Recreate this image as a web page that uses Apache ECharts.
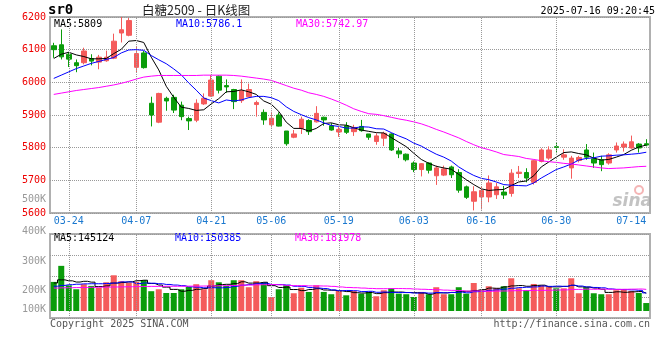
<!DOCTYPE html>
<html><head><meta charset="utf-8">
<script src="https://cdn.jsdelivr.net/npm/echarts@6/dist/echarts.min.js"></script>
<style>html,body{margin:0;padding:0;background:#fff}#c{width:660px;height:360px}</style>
</head><body><div id="c"></div>
<script>
const dates = ['03-20','03-21','03-24','03-25','03-26','03-27','03-28','03-31','04-01','04-02','04-03','04-07','04-08','04-09','04-10','04-11','04-14','04-15','04-16','04-17','04-18','04-21','04-22','04-23','04-24','04-25','04-28','04-29','04-30','05-06','05-07','05-08','05-09','05-12','05-13','05-14','05-15','05-16','05-19','05-20','05-21','05-22','05-23','05-26','05-27','05-28','05-29','05-30','06-03','06-04','06-05','06-06','06-09','06-10','06-11','06-12','06-13','06-16','06-17','06-18','06-19','06-20','06-23','06-24','06-25','06-26','06-27','06-30','07-01','07-02','07-03','07-04','07-07','07-08','07-09','07-10','07-11','07-14','07-15','07-16'];
const opens  = [6112,6115,6086,6060,6060,6073,6062,6066,6074,6151,6144,6046,6090,5936,5878,5951,5954,5930,5889,5884,5934,5958,6019,5990,5978,5944,5956,5932,5908,5870,5900,5851,5832,5859,5883,5879,5893,5867,5848,5867,5849,5865,5842,5819,5829,5842,5790,5780,5753,5733,5753,5714,5716,5741,5724,5680,5636,5649,5649,5656,5664,5660,5721,5724,5694,5758,5768,5803,5771,5738,5761,5793,5766,5763,5753,5793,5802,5799,5811,5812];
const closes = [6100,6078,6071,6051,6096,6065,6077,6077,6126,6161,6189,6088,6045,5900,5966,5943,5915,5895,5882,5936,5951,6007,5976,5986,5941,5974,5978,5938,5885,5890,5866,5812,5842,5887,5849,5905,5885,5854,5856,5847,5862,5852,5832,5836,5844,5793,5781,5763,5733,5751,5731,5738,5735,5717,5670,5648,5665,5669,5692,5680,5655,5722,5725,5707,5760,5793,5793,5801,5778,5768,5770,5771,5753,5748,5778,5805,5811,5818,5799,5808];
const lows   = [6075,6070,6047,6031,6055,6052,6040,6063,6071,6122,6141,6030,6042,5865,5875,5913,5906,5884,5854,5878,5931,5956,5966,5968,5918,5937,5954,5895,5870,5862,5865,5806,5829,5842,5839,5877,5867,5852,5833,5842,5836,5849,5824,5809,5805,5790,5768,5758,5725,5712,5721,5686,5713,5707,5662,5643,5608,5611,5633,5643,5643,5650,5707,5694,5687,5755,5763,5783,5763,5705,5755,5763,5738,5728,5748,5785,5788,5797,5785,5804];
const highs  = [6121,6162,6093,6070,6106,6086,6084,6097,6149,6200,6197,6108,6096,5956,5968,5956,5962,5941,5895,5948,5966,6022,6021,6009,5980,6009,5996,5944,5917,5910,5908,5851,5854,5895,5887,5927,5895,5875,5864,5878,5870,5885,5842,5844,5849,5844,5799,5782,5758,5753,5755,5745,5745,5745,5734,5684,5682,5680,5715,5692,5683,5734,5744,5737,5763,5798,5804,5816,5795,5775,5775,5811,5785,5775,5783,5816,5819,5837,5814,5826];
const ma5  = [6073,6086,6092,6084,6079,6072,6072,6073,6088,6101,6126,6128,6122,6077,6038,5988,5954,5924,5920,5914,5916,5934,5950,5971,5972,5977,5971,5963,5943,5933,5911,5878,5859,5859,5851,5859,5874,5876,5870,5869,5861,5854,5850,5846,5845,5831,5817,5803,5783,5764,5752,5743,5738,5734,5718,5702,5687,5674,5669,5671,5672,5684,5695,5698,5714,5741,5756,5771,5785,5787,5782,5778,5768,5762,5764,5771,5779,5792,5802,5808];
const ma10 = [6012,6022,6032,6042,6050,6058,6064,6070,6076,6090,6099,6100,6098,6082,6069,6057,6041,6023,5998,5976,5952,5944,5937,5946,5943,5946,5953,5957,5957,5953,5944,5925,5911,5901,5892,5885,5876,5868,5865,5860,5860,5864,5863,5858,5857,5846,5836,5827,5814,5805,5792,5780,5771,5759,5741,5727,5715,5706,5702,5695,5687,5685,5684,5683,5692,5707,5720,5733,5741,5750,5762,5767,5769,5774,5775,5777,5778,5780,5782,5786];
const ma30 = [5963,5967,5971,5975,5978,5981,5984,5988,5992,5997,6003,6010,6016,6019,6021,6021,6021,6021,6021,6021,6022,6022,6022,6022,6021,6019,6016,6013,6010,6006,5998,5990,5982,5976,5968,5963,5957,5949,5940,5930,5919,5911,5904,5902,5898,5893,5888,5884,5879,5873,5865,5856,5848,5839,5830,5819,5809,5800,5794,5787,5779,5776,5773,5767,5764,5760,5757,5755,5752,5750,5747,5744,5741,5738,5736,5737,5738,5740,5742,5743];
// volume, in thousands of lots
const volumes = [241,374,213,180,222,208,193,238,296,247,235,241,255,164,180,149,149,180,199,222,180,255,238,208,255,255,197,247,238,114,180,213,147,193,158,213,158,139,166,130,166,144,158,122,172,188,144,139,116,158,139,197,139,139,197,144,232,172,205,188,205,271,188,172,224,213,205,188,188,271,147,197,147,139,139,172,180,166,149,66];
const volMa5  = [232,258,250,240,246,239,203,208,231,236,242,251,255,228,215,198,179,164,171,180,186,207,219,221,227,242,231,232,238,210,195,198,178,169,178,185,174,172,167,161,152,149,153,144,152,157,157,153,152,149,139,150,150,154,162,163,170,177,190,188,200,208,211,205,212,214,200,200,204,213,200,198,190,180,154,159,155,159,161,147];
const volMa10 = [205,212,218,222,225,226,226,228,232,241,241,227,232,230,226,220,215,210,200,197,192,193,192,196,204,214,219,226,230,219,219,215,205,204,194,190,186,175,168,170,168,161,163,155,157,154,153,153,148,151,148,153,151,153,156,151,160,163,172,175,182,189,194,197,200,207,204,206,204,213,207,199,195,192,183,179,177,175,171,150];
const volMa30 = [190,192,193,194,195,196,197,198,199,200,201,202,203,204,204,205,205,205,206,206,207,208,209,210,212,214,215,217,218,219,217,212,210,210,208,208,207,204,199,195,193,190,187,185,185,186,186,185,182,180,178,176,173,171,169,165,166,164,163,165,166,168,169,169,171,171,172,174,175,179,179,181,180,181,180,179,180,181,182,179];
const xTickLabels = ['03-24','04-07','04-21','05-06','05-19','06-03','06-16','06-30','07-14'];
const vGridDates = ['03-24','04-07','04-21','05-06','05-19','06-03','06-16','06-30'];
const volTickLabels = ['500K','400K','300K','200K','100K'];
const priceLegend = ['MA5:5809','MA10:5786.1','MA30:5742.97'];
const volLegend = ['MA5:145124','MA10:150385','MA30:181978'];

const mono = '"DejaVu Sans Mono","Liberation Mono",monospace';
const RED = '#f45b5b', GREEN = '#0a9c0a';
const chart = echarts.init(document.getElementById('c'), null, {renderer: 'canvas'});
const candleData = dates.map((d, i) => [opens[i], closes[i], lows[i], highs[i]]);
const volData = volumes.map((v, i) => ({value: v, itemStyle: {color: closes[i] >= opens[i] ? RED : GREEN}}));
const vLines = () => ({silent: true, symbol: ['none', 'none'], label: {show: false},
  lineStyle: {type: 'dotted', color: '#999', width: 1}, emphasis: {disabled: true}, animation: false,
  data: vGridDates.map(d => ({xAxis: d}))});
const volLabelSlots = [9, 41, 71, 100, 119];
const lineS = (name, data, color, xi, yi, step) => ({name, type: 'line', data, xAxisIndex: xi, yAxisIndex: yi,
  showSymbol: false, symbol: 'none', step: step || false, lineStyle: {color, width: 1}, silent: true, animation: false, z: 3});
const txt = (text, x, y, fill, font, align) => ({type: 'text', x, y, silent: true,
  style: {text, fill, font, textAlign: align || 'left', textVerticalAlign: 'middle'}});

chart.setOption({
  animation: false,
  backgroundColor: '#fff',
  grid: [
    {left: 50, top: 17, width: 600, height: 196, show: true, borderColor: '#b0b0b0', borderWidth: 2},
    {left: 50, top: 234, width: 600, height: 84, show: true, borderColor: '#b0b0b0', borderWidth: 2},
    {left: 50, top: 190, width: 600, height: 130, show: false}
  ],
  xAxis: [
    {type: 'category', gridIndex: 0, data: dates, boundaryGap: true,
     axisLine: {show: false}, axisTick: {show: false}, splitLine: {show: false},
     axisLabel: {interval: (i, v) => xTickLabels.includes(v), color: '#1a78cf', fontFamily: mono, fontSize: 10, margin: 3}},
    {type: 'category', gridIndex: 1, data: dates, boundaryGap: true,
     axisLine: {show: false}, axisTick: {show: false}, axisLabel: {show: false}, splitLine: {show: false}},
    {type: 'value', gridIndex: 2, show: false, min: 0, max: 1}
  ],
  yAxis: [
    {type: 'value', gridIndex: 0, min: 5600, max: 6200, interval: 100,
     axisLine: {show: false}, axisTick: {show: false},
     axisLabel: {color: '#ee0000', fontFamily: mono, fontSize: 10, margin: 4, formatter: v => String(v)},
     splitLine: {show: true, lineStyle: {color: '#999', width: 1, type: 'dotted'}}},
    {type: 'value', gridIndex: 1, min: -58, max: 638, show: false},
    {type: 'value', gridIndex: 1, min: 0, max: 4, interval: 1, axisLine: {show: false}, axisTick: {show: false},
     axisLabel: {show: false}, splitLine: {show: true, lineStyle: {color: '#999', width: 1, type: 'dotted'}}},
    {type: 'value', gridIndex: 2, min: 0, max: 130, inverse: true, axisLine: {show: false}, axisTick: {show: false},
     splitLine: {show: false},
     axisLabel: {customValues: volLabelSlots, formatter: v => { const k = volLabelSlots.indexOf(v); return k >= 0 ? volTickLabels[k] : ''; },
       color: '#999', fontFamily: mono, fontSize: 10, margin: 4}}
  ],
  series: [
    {type: 'candlestick', data: candleData, xAxisIndex: 0, yAxisIndex: 0, barWidth: 5, silent: true,
     itemStyle: {color: RED, color0: GREEN, borderColor: RED, borderColor0: GREEN, borderWidth: 1},
     markLine: vLines()},
    lineS('MA5', ma5, '#000000', 0, 0),
    lineS('MA10', ma10, '#0000ff', 0, 0),
    lineS('MA30', ma30, '#ff00ff', 0, 0),
    {type: 'bar', data: volData, xAxisIndex: 1, yAxisIndex: 1, barWidth: 6, silent: true, markLine: vLines()},
    lineS('VMA5', volMa5, '#000000', 1, 1, 'middle'),
    lineS('VMA10', volMa10, '#0000ff', 1, 1, 'middle'),
    lineS('VMA30', volMa30, '#ff00ff', 1, 1, 'middle')
  ],
  graphic: [
    txt('sr0', 48, 10, '#000', 'bold 14px ' + mono),
    txt('白糖2509 - 日K线图', 142, 10.5, '#222', '12.5px "Noto Sans CJK SC", sans-serif'),
    txt('2025-07-16 09:20:45', 655, 11, '#000', '10px ' + mono, 'right'),
    txt(priceLegend[0], 54, 24, '#000', '10px ' + mono),
    txt(priceLegend[1], 176, 24, '#0000ff', '10px ' + mono),
    txt(priceLegend[2], 296, 24, '#ff00ff', '10px ' + mono),
    txt(volLegend[0], 54, 238.5, '#000', '10px ' + mono),
    txt(volLegend[1], 175, 238.5, '#0000ff', '10px ' + mono),
    txt(volLegend[2], 295, 238.5, '#ff00ff', '10px ' + mono),
    txt('Copyright 2025 SINA.COM', 50, 324, '#555', '10px ' + mono),
    txt('http://finance.sina.com.cn', 650, 324, '#555', '10px ' + mono, 'right'),
    {type: 'circle', silent: true, shape: {cx: 639, cy: 190, r: 4}, style: {fill: 'none', stroke: 'rgba(235,120,120,0.55)', lineWidth: 2}},
    txt('sina', 652, 202, 'rgba(170,170,170,0.7)', 'italic bold 17px "DejaVu Sans", sans-serif', 'right')
  ]
});
</script></body></html>
